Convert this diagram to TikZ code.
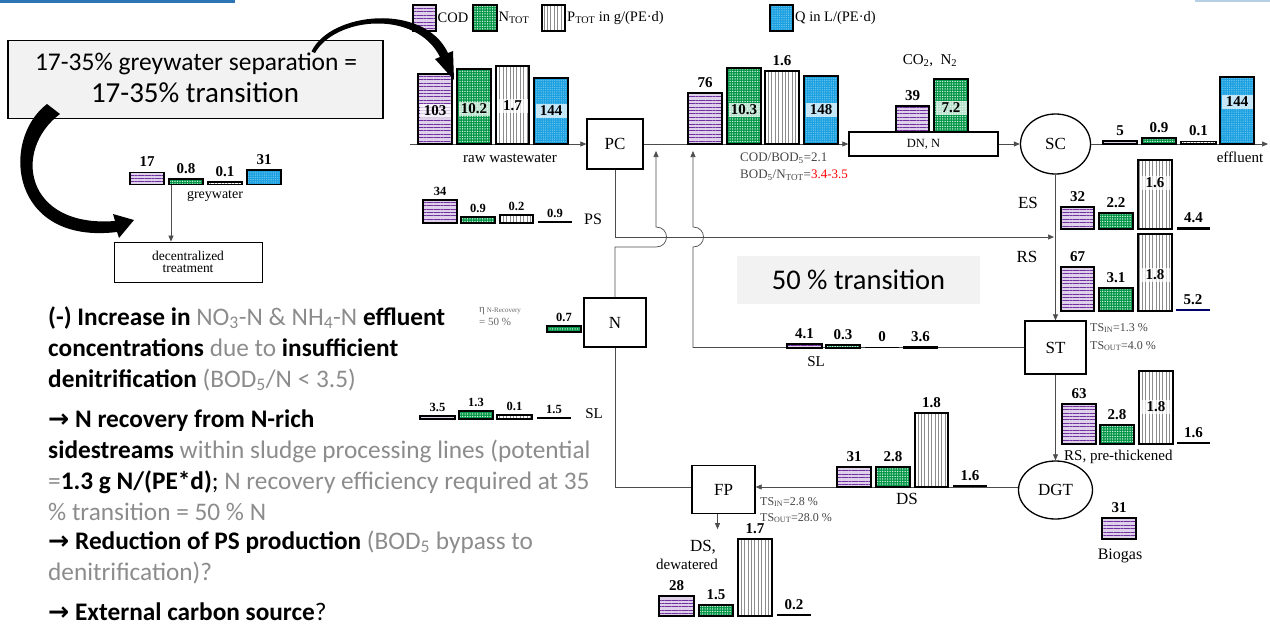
\documentclass[tikz,border=0pt]{standalone}
\usepackage{fontspec}
\setmainfont{Liberation Serif}
\newfontfamily\calib{Carlito}
\newfontfamily\arrowf{DejaVu Sans}
\usetikzlibrary{arrows.meta,patterns.meta,shapes.geometric}
\definecolor{codc}{RGB}{112,48,160}
\definecolor{nc}{RGB}{0,150,70}
\definecolor{qc}{RGB}{25,160,225}
\definecolor{txtg}{RGB}{140,140,140}
\definecolor{boxg}{RGB}{242,242,242}
\definecolor{hdr}{RGB}{46,117,182}
\definecolor{anng}{RGB}{70,70,70}
\newcommand\fsz[1]{\fontsize{#1}{#1}\selectfont}
% bar with label above: style,x1,x2,top,base,label,name
\newcommand\bA[7]{\draw[#1] (#2,#4) rectangle (#3,#5); \node[val,anchor=base] (#7) at ({(#2+#3)/2},{#4-6}) {#6};}
\newcommand\bAs[7]{\draw[#1] (#2,#4) rectangle (#3,#5); \node[valS,anchor=base] (#7) at ({(#2+#3)/2},{#4-5}) {#6};}
% bar with label inside: style,x1,x2,top,base,label,labely,name
\newcommand\bI[8]{\draw[#1] (#2,#4) rectangle (#3,#5); \node[inl,minimum width={#3-#2-3}] (#8) at ({(#2+#3)/2},#7) {#6};}
% line bar: x1,x2,y,lw,label,name,colour
\newcommand\bL[7]{\draw[line width=#4pt,#7] (#1,#3) -- (#2,#3); \node[val,anchor=base] (#6) at ({(#1+#2)/2},{#3-6}) {#5};}
\newcommand\bLs[7]{\draw[line width=#4pt,#7] (#1,#3) -- (#2,#3); \node[valS,anchor=base] (#6) at ({(#1+#2)/2},{#3-5}) {#5};}
\begin{document}
\begin{tikzpicture}[x=1pt,y=-1pt,
  conn/.style={draw=black!70, line width=0.7pt},
  arr/.style={conn, -{Triangle[length=6pt,width=5pt]}},
  codbar/.style={draw=black, line width=1.2pt, preaction={fill=codc!22}, pattern={Lines[angle=0,distance=3.4pt,line width=1pt]}, pattern color=codc},
  nbar/.style={draw=black, line width=1.2pt, preaction={fill=nc}, pattern={Dots[radius=0.75pt,distance=2.5pt]}, pattern color=white!85!nc},
  pbar/.style={draw=black, line width=1.2pt, preaction={fill=white}, pattern={Lines[angle=90,distance=3.4pt,line width=0.8pt]}, pattern color=black!45},
  qbar/.style={draw=black, line width=1.2pt, preaction={fill=qc}, pattern={Dots[radius=0.45pt,distance=1.8pt]}, pattern color=white!55!qc},
  val/.style={font=\fsz{15}\bfseries, inner sep=0pt},
  valS/.style={font=\fsz{12.5}\bfseries, inner sep=0pt},
  inl/.style={font=\fsz{15}\bfseries, fill=white, fill opacity=0.72, text opacity=1, inner xsep=0pt, inner ysep=2pt},
  pbox/.style={draw, line width=1.3pt, fill=white, font=\fsz{17}, inner sep=0pt},
  lab/.style={font=\fsz{16}, inner sep=0pt},
  leg/.style={font=\fsz{14.5}, inner sep=0pt, anchor=west},
  small/.style={font=\fsz{12}, text=anng, inner sep=0pt, anchor=west},
  txt/.style={font=\calib\fsz{25.3}, inner sep=0pt, anchor=base west},
]
\useasboundingbox (0,0) rectangle (1270,624);
\fill[hdr] (0,0) rectangle (235,2.5);
\fill[hdr!35] (1195,0) rectangle (1270,2);

% ---------- legend ----------
\draw[codbar] (413,5) rectangle (436,31);
\node[leg] (lgc) at (437.5,18) {COD};
\draw[nbar] (473,5) rectangle (497,31);
\node[leg] (lgn) at (498.5,18) {N\textsubscript{TOT}};
\draw[pbar] (542,5) rectangle (565,31);
\node[leg] (lgp) at (567,18) {P\textsubscript{TOT} in g/(PE·d)};
\draw[qbar] (770,5) rectangle (793,31);
\node[leg] (lgq) at (795,18) {Q in L/(PE·d)};

% ---------- process nodes ----------
\node[pbox, minimum width=56, minimum height=50] (PC) at (615,144) {PC};
\node[draw, line width=1.3pt, fill=white, minimum width=149, minimum height=24, inner sep=0pt, font=\fsz{12.5}] (DN) at (923.5,144) {DN, N};
\node[pbox, ellipse, minimum width=70, minimum height=60] (SC) at (1055.5,144) {SC};
\node[pbox, minimum width=61, minimum height=53] (ST) at (1055.5,347.5) {ST};
\node[pbox, ellipse, minimum width=74, minimum height=58] (DGT) at (1055.5,490) {DGT};
\node[pbox, minimum width=63, minimum height=48] (FP) at (723.5,489.5) {FP};
\node[pbox, minimum width=62, minimum height=49] (N) at (615,322.5) {N};
\node[draw, line width=0.8pt, fill=white, minimum width=148, minimum height=40, align=center, inner sep=0pt, font=\fsz{13.5}] (dec) at (188,262) {decentralized\\[-1pt]treatment};

% ---------- connectors ----------
\coordinate (rawin) at (410,144);
\coordinate (effout) at (1268,144);
\coordinate (esj) at (1054,237);
\coordinate (ret1) at (656,151);
\coordinate (ret2) at (693,151);
\coordinate (gwa) at (171,185);
\draw[arr] (rawin) -- (PC.west);
\draw[arr] (PC.east) -- (DN.west);
\draw[arr] (DN.east) -- (SC.west);
\draw[arr] (SC.east) -- (effout);
\draw[arr] (SC.south) -- (ST.north);
\draw[arr] (ST.south) -- (DGT.north);
\draw[arr] (PC.south) -- (615,237) -- (esj);
\draw[arr] (N.north) -- (615,247) -- (656,247) .. controls (670,247) and (670,227) .. (656,227) -- (ret1);
\draw[arr] (ST.west) -- (693,347.5) -- (693,247) .. controls (707,247) and (707,227) .. (693,227) -- (ret2);
\draw[conn] (N.south) -- (615,487) -- (FP.west |- 0,487);
\draw[arr] (DGT.west |- 0,487) -- (FP.east |- 0,487);
\draw[arr] ([xshift=-6pt]FP.south) -- ++(0,15);
\draw[arr] (gwa) -- (gwa |- dec.north);

% ---------- bars: raw wastewater ----------
\bI{codbar}{418}{452}{74}{144}{103}{111}{r1}
\bI{nbar}{457}{491}{69}{144}{10.2}{109}{r2}
\bI{pbar}{496}{529}{66}{144}{1.7}{106}{r3}
\bI{qbar}{534}{568}{78}{144}{144}{111}{r4}
\node[lab, font=\fsz{15}] (rawl) at (510,158) {raw wastewater};

% greywater
\bA{codbar}{130}{164}{172.5}{184.5}{17}{g1}
\bA{nbar}{169}{203}{179}{184.5}{0.8}{g2}
\bA{pbar}{208}{242}{182}{184.5}{0.1}{g3}
\bA{qbar}{247}{281}{170}{184.5}{31}{g4}
\node[lab, font=\fsz{14}] (gwl) at (215,196) {greywater};

% after PC
\bA{codbar}{688}{722}{93}{144}{76}{m1}
\bI{nbar}{727}{761}{68}{144}{10.3}{110}{m2}
\bA{pbar}{765}{799}{71}{144}{1.6}{m3}
\bI{qbar}{804}{838}{76}{144}{148}{110}{m4}
\node[small, font=\fsz{13}] (cb1) at (740,158) {COD/BOD\textsubscript{5}=2.1};
\node[small, font=\fsz{13}] (cb2) at (740,175) {BOD\textsubscript{5}/N\textsubscript{TOT}=\textcolor{red}{3.4-3.5}};

% on DN
\bA{codbar}{896}{929}{106}{132}{39}{d1}
\bI{nbar}{934}{968}{79}{132}{7.2}{108}{d2}
\node[lab, font=\fsz{15}] (co2) at (930,61) {CO\textsubscript{2},\ \ N\textsubscript{2}};

% effluent
\bA{codbar}{1103}{1137}{141}{144}{5}{e1}
\bA{nbar}{1142}{1176}{138}{144}{0.9}{e2}
\bA{pbar}{1181}{1216}{141.5}{144}{0.1}{e3}
\bI{qbar}{1220}{1254}{77}{144}{144}{102}{e4}
\node[lab, font=\fsz{15}] (effl) at (1240,157) {effluent};

% ES
\node[lab, font=\fsz{17}] (esl) at (1028,203) {ES};
\bA{codbar}{1061}{1094}{207}{229}{32}{es1}
\bA{nbar}{1099}{1133}{213}{229}{2.2}{es2}
\bI{pbar}{1138}{1172}{160}{229}{1.6}{183}{es3}
\bL{1177}{1210}{228.5}{3}{4.4}{es4}{black}

% RS
\node[lab, font=\fsz{17}] (rsl) at (1027,257) {RS};
\bA{codbar}{1061}{1094}{267}{311}{67}{rs1}
\bA{nbar}{1099}{1133}{288}{311}{3.1}{rs2}
\bI{pbar}{1138}{1172}{234}{311}{1.8}{275}{rs3}
\bL{1176}{1210}{310}{2.5}{5.2}{rs4}{black!60!blue}

% ST annotations
\node[small] (tsi1) at (1090,328) {TS\textsubscript{IN}=1.3 \%};
\node[small] (tso1) at (1090,346) {TS\textsubscript{OUT}=4.0 \%};

% RS pre-thickened
\bA{codbar}{1062}{1096}{404}{444}{63}{rp1}
\bA{nbar}{1100}{1134}{425}{444}{2.8}{rp2}
\bI{pbar}{1139}{1173}{371}{444}{1.8}{407}{rp3}
\bL{1177}{1210}{443}{2.5}{1.6}{rp4}{black}
\node[lab, font=\fsz{15}, anchor=west] (rpl) at (1064,457) {RS, pre-thickened};

% biogas
\bA{codbar}{1102}{1136}{518}{539}{31}{bg1}
\node[lab] (bgl) at (1120,556) {Biogas};

% DS
\bA{codbar}{837}{871}{467}{487}{31}{ds1}
\bA{nbar}{876}{910}{467}{487}{2.8}{ds2}
\bA{pbar}{915}{948}{413}{487}{1.8}{ds3}
\bL{953}{987}{486}{2.5}{1.6}{ds4}{black}
\node[lab, font=\fsz{17}] (dsl) at (907,499) {DS};

% FP annotations
\node[small] (tsi2) at (760,502) {TS\textsubscript{IN}=2.8 \%};
\node[small] (tso2) at (760,518) {TS\textsubscript{OUT}=28.0 \%};

% dewatered
\node[lab, font=\fsz{17}] (dwl1) at (703,547) {DS,};
\node[lab, font=\fsz{15}] (dwl2) at (687,564) {dewatered};
\bA{codbar}{659}{694}{596}{616}{28}{dw1}
\bA{nbar}{699}{733}{605}{616}{1.5}{dw2}
\bA{pbar}{738}{772}{539}{616}{1.7}{dw3}
\bL{777}{811}{615}{2}{0.2}{dw4}{black}

% SL (middle)
\bA{codbar}{787}{822}{344}{348}{4.1}{sl1}
\bA{nbar}{826}{860}{345}{348}{0.3}{sl2}
\bL{865}{899}{347.5}{1.2}{0}{sl3}{black}
\bL{903}{938}{347}{3}{3.6}{sl4}{black}
\node[lab, font=\fsz{15}] (sll) at (816,362) {SL};

% PS
\bAs{codbar}{423}{457}{200}{223}{34}{ps1}
\bAs{nbar}{461}{495}{217}{223}{0.9}{ps2}
\bAs{pbar}{500}{533}{215}{223}{0.2}{ps3}
\bLs{538}{572}{222}{1.5}{0.9}{ps4}{black}
\node[lab] (psl) at (593,219) {PS};

% N recovery
\node[small, font=\fsz{11}, text=black!60] (eta1) at (479,311) {η\,{\fsz{7}N-Recovery}};
\node[small, font=\fsz{11}, text=black!60] (eta2) at (479,322) {= 50 \%};
\bAs{nbar}{547}{581}{326}{332}{0.7}{n07}

% SL (left)
\bAs{codbar}{420}{455}{416}{419}{3.5}{sll1}
\bAs{nbar}{459}{493}{411}{419}{1.3}{sll2}
\bAs{pbar}{497}{532}{415}{419}{0.1}{sll3}
\bLs{537}{571}{418}{1.5}{1.5}{sll4}{black}
\node[lab, font=\fsz{15}] (slll) at (594,414) {SL};

% ---------- highlight boxes ----------
\node[fill=boxg, minimum width=243, minimum height=48, inner sep=0pt] (tbox) at (858.5,280) {};
\node[font=\calib\fsz{28.5}, anchor=base, inner sep=0pt] (tt) at (858.5,289) {50 \% transition};

\node[draw, line width=1.8pt, fill=boxg, minimum width=375, minimum height=78, inner sep=0pt] (gwbox) at (195.5,79.5) {};
\node[font=\calib\fsz{25.5}, anchor=base, inner sep=0pt] (gwt1) at (196,70) {17-35\% greywater separation =};
\node[font=\calib\fsz{29}, anchor=base, inner sep=0pt] (gwt2) at (195,102) {17-35\% transition};

% thick curved arrows
\fill (311.5,51.5) .. controls (330,12) and (424,2) .. (448,53) -- (453,51) -- (454,80) -- (435,59) -- (440,57) .. controls (416,9) and (335,17) .. (315,53) -- cycle;
\fill (47,104) .. controls (0,140) and (10,245) .. (117,232) -- (119,238) -- (134,220) -- (113,214) -- (115,221) .. controls (25,228) and (12,150) .. (60,114) -- cycle;

% ---------- left text ----------
\node[txt] (t1) at (48,325) {\textbf{(-) Increase in} \textcolor{txtg}{NO\textsubscript{3}-N \& NH\textsubscript{4}-N} \textbf{effluent}};
\node[txt] (t2) at (48,356) {\textbf{concentrations} \textcolor{txtg}{due to} \textbf{insufficient}};
\node[txt] (t3) at (48,387) {\textbf{denitrification} \textcolor{txtg}{(BOD\textsubscript{5}/N < 3.5)}};
\node[txt] (t4) at (48,427) {\textbf{{\arrowf →} N recovery from N-rich}};
\node[txt] (t5) at (48,458) {\textbf{sidestreams} \textcolor{txtg}{within sludge processing lines (potential}};
\node[txt] (t6) at (48,489) {\textcolor{txtg}{=}\textbf{1.3 g N/(PE*d)}; \textcolor{txtg}{N recovery efficiency required at 35}};
\node[txt] (t7) at (48,520) {\textcolor{txtg}{\% transition = 50 \% N}};
\node[txt] (t8) at (48,549) {\textbf{{\arrowf →} Reduction of PS production} \textcolor{txtg}{(BOD\textsubscript{5} bypass to}};
\node[txt] (t9) at (48,580) {\textcolor{txtg}{denitrification)?}};
\node[txt] (t10) at (48,620) {\textbf{{\arrowf →} External carbon source}?};
\end{tikzpicture}
\end{document}
